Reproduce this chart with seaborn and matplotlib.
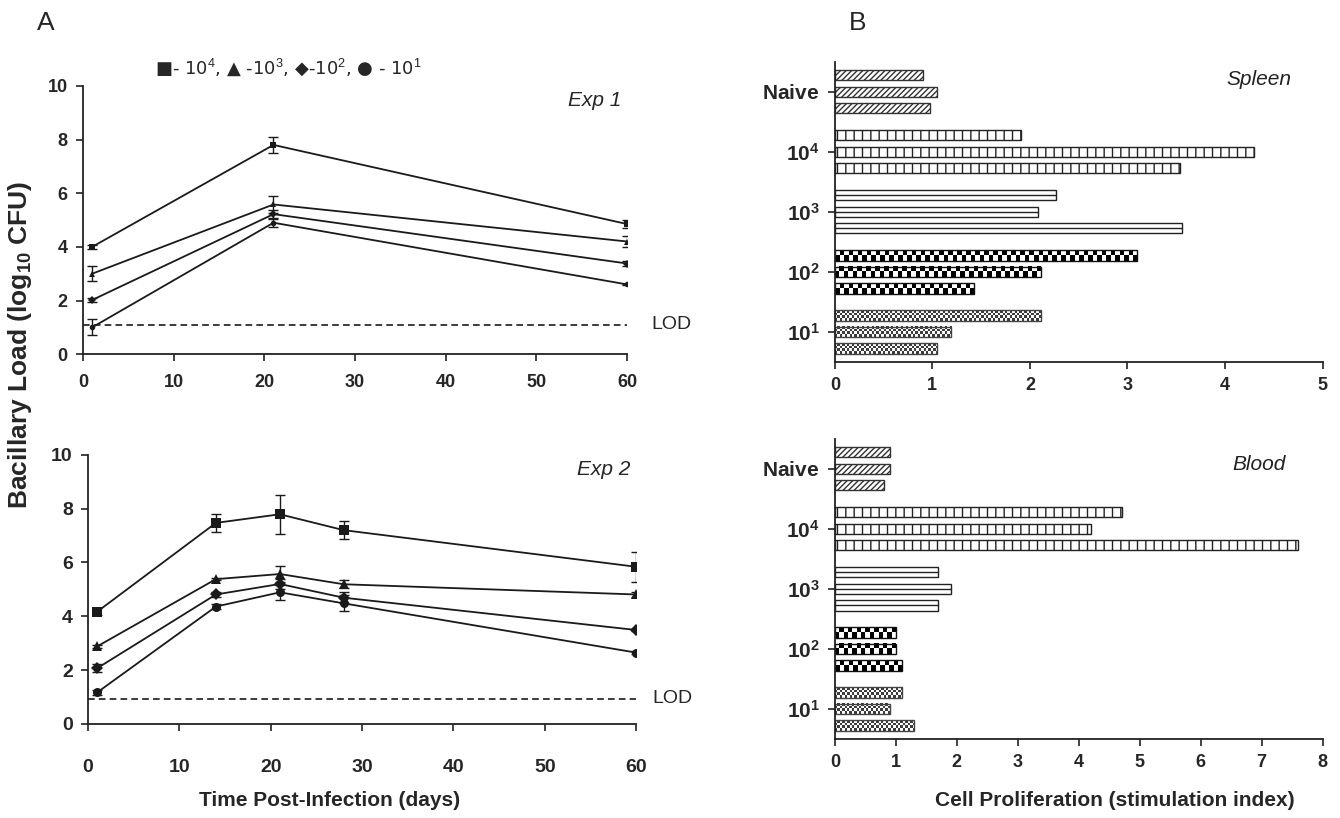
import numpy as np
import pandas as pd
import matplotlib
matplotlib.use('Agg')
import matplotlib.pyplot as plt
import matplotlib.transforms as mtransforms
from matplotlib.colors import ListedColormap
import seaborn as sns

# ---- Panel A data (log10 CFU) ----
doses = ['1e4', '1e3', '1e2', '1e1']
dose_markers = {'1e4': 's', '1e3': '^', '1e2': 'D', '1e1': 'o'}

exp1_days = [1, 21, 60]
exp1_1e4 = [4.0, 7.8, 4.85]
exp1_1e3 = [3.0, 5.58, 4.2]
exp1_1e2 = [2.02, 5.22, 3.38]
exp1_1e1 = [1.0, 4.9, 2.6]
exp1_1e4_err = [0.07, 0.3, 0.15]
exp1_1e3_err = [0.28, 0.3, 0.2]
exp1_1e2_err = [0.06, 0.15, 0.08]
exp1_1e1_err = [0.3, 0.15, 0.03]
exp1_lod = 1.1

exp2_days = [1, 14, 21, 28, 60]
exp2_1e4 = [4.17, 7.47, 7.79, 7.2, 5.84]
exp2_1e3 = [2.88, 5.38, 5.57, 5.19, 4.81]
exp2_1e2 = [2.07, 4.81, 5.2, 4.69, 3.49]
exp2_1e1 = [1.17, 4.36, 4.89, 4.48, 2.65]
exp2_1e4_err = [0.12, 0.34, 0.72, 0.34, 0.55]
exp2_1e3_err = [0.05, 0.05, 0.28, 0.15, 0.1]
exp2_1e2_err = [0.15, 0.1, 0.2, 0.2, 0.05]
exp2_1e1_err = [0.1, 0.1, 0.28, 0.3, 0.05]
exp2_lod = 0.93

# ---- Panel B data (stimulation index), three animals per group ----
groups = [r'$\mathbf{Naive}$', r'$\mathbf{10^4}$', r'$\mathbf{10^3}$',
          r'$\mathbf{10^2}$', r'$\mathbf{10^1}$']
spleen_rep1 = [0.90, 1.91, 2.27, 3.10, 2.11]
spleen_rep2 = [1.05, 4.30, 2.08, 2.11, 1.19]
spleen_rep3 = [0.98, 3.54, 3.56, 1.43, 1.05]
blood_rep1 = [0.90, 4.71, 1.70, 1.00, 1.10]
blood_rep2 = [0.90, 4.20, 1.91, 1.00, 0.90]
blood_rep3 = [0.80, 7.60, 1.70, 1.10, 1.30]

# fill style per group: hatch string, 'line' (single centre line) or checker cell size
group_fill = ['//////', '||', 'line', ('checker', 4.5, '#000000'), ('checker', 2.4, '#3c3c3c')]
group_edges = ['#333333', '#222222', '#222222', '#111111', '#444444']


def long_lines(days, series, errs):
    rows = []
    for dose, vals, ers in zip(doses, series, errs):
        for d, v, e in zip(days, vals, ers):
            rows.append({'day': d, 'load': v, 'err': e, 'dose': dose})
    return pd.DataFrame(rows)


def long_bars(reps):
    rows = []
    for r, vals in enumerate(reps):
        for g, v in zip(groups, vals):
            rows.append({'group': g, 'index': v, 'rep': f'r{r}'})
    return pd.DataFrame(rows)


def draw_lines(ax, df, lod, msize, label, lodx):
    sns.lineplot(data=df, x='day', y='load', style='dose', markers=dose_markers,
                 dashes=False, color='#1a1a1a', linewidth=1.3, markersize=msize,
                 markeredgewidth=0, legend=False, ax=ax, errorbar=None)
    ax.errorbar(df['day'], df['load'], yerr=df['err'], fmt='none', ecolor='#1a1a1a',
                elinewidth=1.0, capsize=3.5, capthick=1.0)
    ax.axhline(lod, color='#1a1a1a', ls=(0, (4, 2.5)), lw=1.2)
    tr = mtransforms.blended_transform_factory(ax.transAxes, ax.transData)
    ax.text(lodx, lod, 'LOD', transform=tr, ha='left', va='center', fontsize=14)
    ax.text(0.99, 0.945, label, transform=ax.transAxes, ha='right', va='center',
            fontsize=15, style='italic')
    ax.set_xlim(0, 60)
    ax.set_ylim(0, 10)
    ax.set_xticks(range(0, 61, 10))
    ax.set_yticks(range(0, 11, 2))
    ax.set_xlabel('')
    ax.set_ylabel('')


def checker_fill(ax, bar, cell, color):
    x0, y0, w, h = bar.get_x(), bar.get_y(), bar.get_width(), bar.get_height()
    p0 = ax.transData.transform((x0, y0))
    p1 = ax.transData.transform((x0 + w, y0 + h))
    ncol = max(1, int(round(abs(p1[0] - p0[0]) / cell)))
    nrow = max(1, int(round(abs(p1[1] - p0[1]) / cell)))
    ii, jj = np.indices((nrow, ncol))
    ax.imshow((ii + jj) % 2, cmap=ListedColormap(['white', color]), origin='upper',
              extent=(x0, x0 + w, y0 + h, y0), aspect='auto',
              interpolation='nearest', zorder=1.5)


def draw_bars(ax, df, xmax, label, ly):
    sns.barplot(data=df, y='group', x='index', hue='rep', orient='h', order=groups,
                width=0.825, gap=0.38, palette=['white'] * 3,
                legend=False, ax=ax, errorbar=None, saturation=1)
    ax.set_xlim(0, xmax)
    ax.set_ylim(4.5, -0.5)
    for cont in ax.containers:
        for i, bar in enumerate(cont):
            fill = group_fill[i]
            bar.set_edgecolor(group_edges[i])
            bar.set_linewidth(1.0)
            bar.set_zorder(2)
            if isinstance(fill, tuple):
                bar.set_facecolor('none')
                checker_fill(ax, bar, fill[1], fill[2])
            elif fill == 'line':
                bar.set_facecolor('white')
                yc = bar.get_y() + bar.get_height() / 2
                ax.plot([bar.get_x(), bar.get_x() + bar.get_width()], [yc, yc],
                        color=group_edges[i], lw=1.0, zorder=2.5)
            else:
                bar.set_facecolor('white')
                bar.set_hatch(fill)
    ax.set_xlim(0, xmax)
    ax.set_ylim(4.5, -0.5)
    ax.set_xticks(range(0, xmax + 1))
    ax.set_xlabel('')
    ax.set_ylabel('')
    ax.text(0.87, ly, label, transform=ax.transAxes, ha='center', va='center',
            fontsize=15, style='italic', color='#222222')


def main():
    sns.set_theme(style='ticks')
    plt.rcParams['font.family'] = ['Liberation Sans', 'DejaVu Sans']
    plt.rcParams['mathtext.fontset'] = 'custom'
    plt.rcParams['mathtext.rm'] = 'Liberation Sans'
    plt.rcParams['mathtext.bf'] = 'Liberation Sans:bold'
    plt.rcParams['mathtext.it'] = 'Liberation Sans:italic'
    plt.rcParams['hatch.linewidth'] = 1.0

    fig = plt.figure(figsize=(13.4, 8.18), dpi=100)
    ax1 = fig.add_axes([0.062, 0.567, 0.406, 0.328])
    ax2 = fig.add_axes([0.0657, 0.115, 0.409, 0.329])
    ax3 = fig.add_axes([0.623, 0.5575, 0.364, 0.367])
    ax4 = fig.add_axes([0.623, 0.0966, 0.364, 0.367])

    e1 = long_lines(exp1_days, [exp1_1e4, exp1_1e3, exp1_1e2, exp1_1e1],
                    [exp1_1e4_err, exp1_1e3_err, exp1_1e2_err, exp1_1e1_err])
    e2 = long_lines(exp2_days, [exp2_1e4, exp2_1e3, exp2_1e2, exp2_1e1],
                    [exp2_1e4_err, exp2_1e3_err, exp2_1e2_err, exp2_1e1_err])
    draw_lines(ax1, e1, exp1_lod, 4, 'Exp 1', 1.045)
    draw_lines(ax2, e2, exp2_lod, 6.5, 'Exp 2', 1.03)

    draw_bars(ax3, long_bars([spleen_rep1, spleen_rep2, spleen_rep3]), 5, 'Spleen', 0.94)
    draw_bars(ax4, long_bars([blood_rep1, blood_rep2, blood_rep3]), 8, 'Blood', 0.915)

    for ax in (ax1, ax2, ax3, ax4):
        sns.despine(ax=ax)
        for s in ('left', 'bottom'):
            ax.spines[s].set_linewidth(1.3)
            ax.spines[s].set_color('#222222')
        ax.tick_params(direction='out', length=5, width=1.2, color='#222222',
                       labelsize=13, pad=6)
        for t in ax.get_xticklabels() + ax.get_yticklabels():
            t.set_fontweight('bold')
    for ax in (ax3, ax4):
        ax.tick_params(axis='y', labelsize=15)
    ax1.tick_params(axis='x', pad=9)
    ax2.tick_params(axis='x', pad=20, labelsize=14)
    ax2.tick_params(axis='y', labelsize=14)

    fig.text(0.015, 0.578, r'Bacillary Load (log$_\mathbf{10}$ CFU)', rotation=90,
             ha='center', va='center', fontsize=19, fontweight='bold')
    fig.text(0.246, 0.022, 'Time Post-Infection (days)', ha='center', va='center',
             fontsize=15, fontweight='bold')
    fig.text(0.832, 0.022, 'Cell Proliferation (stimulation index)', ha='center',
             va='center', fontsize=15, fontweight='bold')
    fig.text(0.215, 0.918, '■- 10$^4$, ▲ -10$^3$, ◆-10$^2$, ● - 10$^1$',
             ha='center', va='center', fontsize=13, family=['DejaVu Sans'])
    fig.text(0.034, 0.972, 'A', ha='center', va='center', fontsize=19)
    fig.text(0.640, 0.972, 'B', ha='center', va='center', fontsize=19)

    fig.savefig('out.png', dpi=100)


if __name__ == '__main__':
    main()
